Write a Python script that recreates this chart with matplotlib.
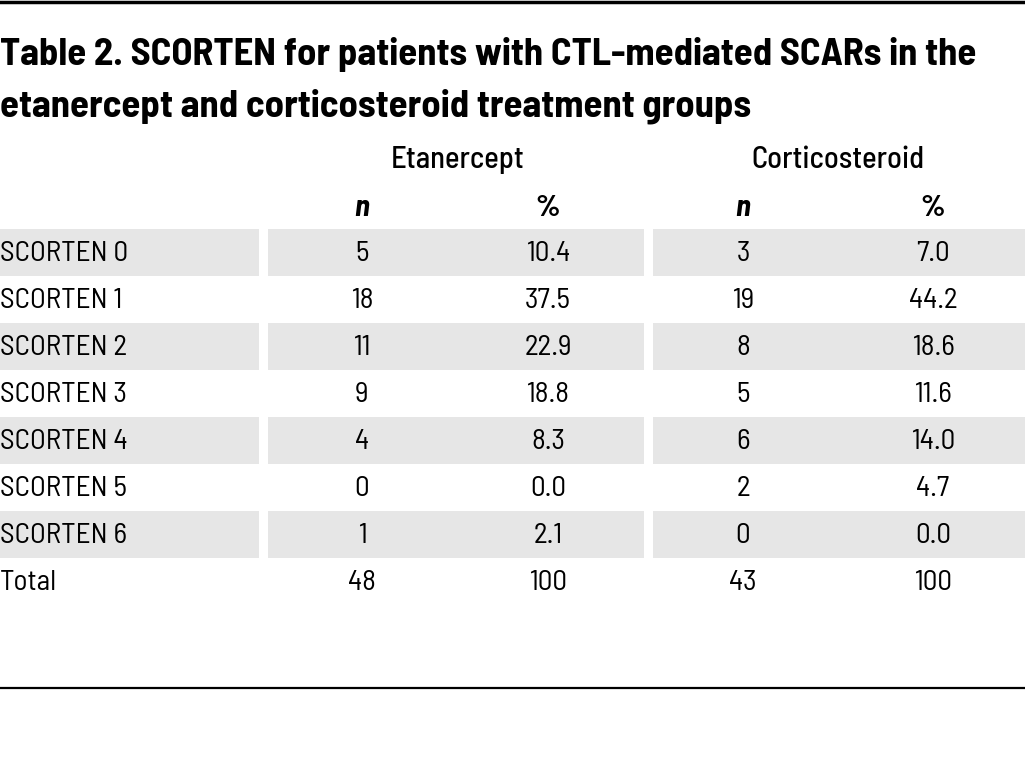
import matplotlib.pyplot as plt

# table data
title_lines = ["Table 2. SCORTEN for patients with CTL-mediated SCARs in the",
               "etanercept and corticosteroid treatment groups"]
groups = ["Etanercept", "Corticosteroid"]
row_labels = ["SCORTEN 0", "SCORTEN 1", "SCORTEN 2", "SCORTEN 3",
              "SCORTEN 4", "SCORTEN 5", "SCORTEN 6", "Total"]
etan_n = ["5", "18", "11", "9", "4", "0", "1", "48"]
etan_pct = ["10.4", "37.5", "22.9", "18.8", "8.3", "0.0", "2.1", "100"]
cort_n = ["3", "19", "8", "5", "6", "2", "0", "43"]
cort_pct = ["7.0", "44.2", "18.6", "11.6", "14.0", "4.7", "0.0", "100"]

fam = ["Barlow Semi Condensed", "DejaVu Sans"]

fig = plt.figure(figsize=(10.25, 7.75), dpi=100)
ax = fig.add_axes([0, 0, 1, 1])
ax.set_xlim(0, 1025)
ax.set_ylim(775, 0)
ax.axis("off")

# rules
ax.axhline(1.5, color="black", lw=2.5)
ax.axhline(688, color="black", lw=1.6)

# title
for i, line in enumerate(title_lines):
    ax.text(0, 55 + i * 51, line, fontsize=27.8, fontweight=700, family=fam,
            va="center", ha="left")

# column headers
col_x = [362, 548, 743, 933]
for g, cx in zip(groups, [458, 838]):
    ax.text(cx, 160, g, fontsize=22, fontweight=500, family=fam,
            va="center", ha="center")
for cx, h in zip(col_x, ["n", "%", "n", "%"]):
    ax.text(cx, 209, h, fontsize=22, fontweight=700,
            style="italic" if h == "n" else "normal", family=fam,
            va="center", ha="center")

# shaded bands
row_y0 = 252
row_h = 47
spans = [(0, 259), (268, 644), (653, 1025)]
for r in range(len(row_labels)):
    y = row_y0 + r * row_h
    if r % 2 == 0 and r < 7:
        for x0, x1 in spans:
            ax.barh(y, x1 - x0, left=x0, height=row_h, color="#e6e6e6", lw=0)

# cells
cols = [etan_n, etan_pct, cort_n, cort_pct]
for r, lab in enumerate(row_labels):
    y = row_y0 + r * row_h + 2
    ax.text(0, y, lab, fontsize=21, family=fam, va="center", ha="left")
    for cx, col in zip(col_x, cols):
        ax.text(cx, y, col[r], fontsize=21, family=fam, va="center", ha="center")

plt.savefig("out.png", dpi=100)
